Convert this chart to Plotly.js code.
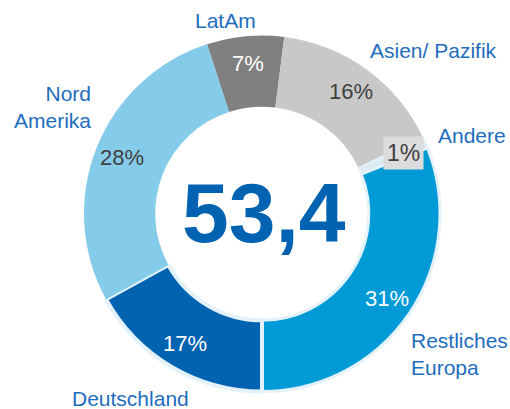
<!DOCTYPE html>
<html>
<head>
<meta charset="utf-8">
<script src="https://cdn.plot.ly/plotly-3.0.1.min.js"></script>
<style>html,body{margin:0;padding:0;background:#fff;}#chart{width:510px;height:409px;}</style>
</head>
<body>
<div id="chart"></div>
<script>
// Data
const regions = ["LatAm", "Asien/ Pazifik", "Andere", "Restliches Europa", "Deutschland", "Nord Amerika"];
const shares = [7, 16, 1, 31, 17, 28];
const labelTexts = ["LatAm", "Asien/ Pazifik", "Andere", "Restliches<br>Europa", "Deutschland", "Nord<br>Amerika"];
const totalLabel = "53,4";

// Styling
const sliceColors = ["#808080", "#C8C8C8", "#DCEAF4", "#009BD6", "#0063B1", "#85CCEB"];
const lineColors = ["#ffffff", "#ffffff", "#E2F1FA", "#E2F1FA", "#E2F1FA", "#ffffff"];
const lineWidths = [0, 0, 2, 3, 4, 0];
const pctColors = ["#ffffff", "#404040", "#404040", "#ffffff", "#ffffff", "#404040"];
const FONT = "Liberation Sans, Arial, sans-serif";
const BLUE = "#1E6DBE";
const W = 510, H = 409;
const ROT = -18;
const CX = 262, CY = 213.5, R_OUT = 178, R_LBL = 151;

// category label positions (paper px)
const labelPos = [
  {x: 225, y: 20, xa: "center", al: "center"},
  {x: 433, y: 50, xa: "center", al: "center"},
  {x: 472, y: 135, xa: "center", al: "center"},
  {x: 409, y: 354, xa: "left", al: "left"},
  {x: 130, y: 398, xa: "center", al: "center"},
  {x: 93, y: 107, xa: "right", al: "right"}
];

const annotations = labelTexts.map((t, i) => ({
  text: t, xref: "paper", yref: "paper",
  x: labelPos[i].x / W, y: 1 - labelPos[i].y / H,
  xanchor: labelPos[i].xa, yanchor: "middle", align: labelPos[i].al,
  showarrow: false, font: {family: FONT, size: 21, color: BLUE}
}));
annotations.push({
  text: totalLabel, xref: "paper", yref: "paper", x: 264 / W, y: 1 - 213 / H,
  xanchor: "center", yanchor: "middle", showarrow: false,
  font: {family: FONT, size: 84, color: "#0063B1", weight: "bold"}
});

// percentage labels placed at each slice's mid-angle (derived from the values)
const total = shares.reduce((a, b) => a + b, 0);
let cum = 0;
shares.forEach((v, i) => {
  const mid = ROT + (cum + v / 2) / total * 360;
  cum += v;
  if (i === 2) return; // small slice gets boxed label
  const a = mid * Math.PI / 180;
  const px = CX + R_LBL * Math.sin(a), py = CY - R_LBL * Math.cos(a);
  annotations.push({
    text: v + "%", xref: "paper", yref: "paper", x: px / W, y: 1 - py / H,
    xanchor: "center", yanchor: "middle", showarrow: false,
    font: {family: FONT, size: 22, color: pctColors[i]}
  });
});
annotations.push({
  text: shares[2] + "%", xref: "paper", yref: "paper", x: 403 / W, y: 1 - 153 / H,
  xanchor: "center", yanchor: "middle", showarrow: false, bgcolor: "#DCDCDC",
  borderpad: 3,
  font: {family: FONT, size: 23, color: "#404040"}
});

const trace = {
  type: "pie",
  labels: regions,
  values: shares,
  sort: false,
  direction: "clockwise",
  rotation: ROT,
  hole: 0.6,
  marker: {colors: sliceColors, line: {color: lineColors, width: lineWidths}},
  textinfo: "none",
  domain: {x: [(CX - R_OUT) / W, (CX + R_OUT) / W], y: [1 - (CY + R_OUT) / H, 1 - (CY - R_OUT) / H]},
  showlegend: false,
  hoverinfo: "label+percent"
};

Plotly.newPlot("chart", [trace], {
  width: W, height: H,
  margin: {l: 0, r: 0, t: 0, b: 0},
  paper_bgcolor: "#ffffff",
  showlegend: false,
  annotations: annotations
}, {displayModeBar: false, staticPlot: true});
</script>
</body>
</html>
